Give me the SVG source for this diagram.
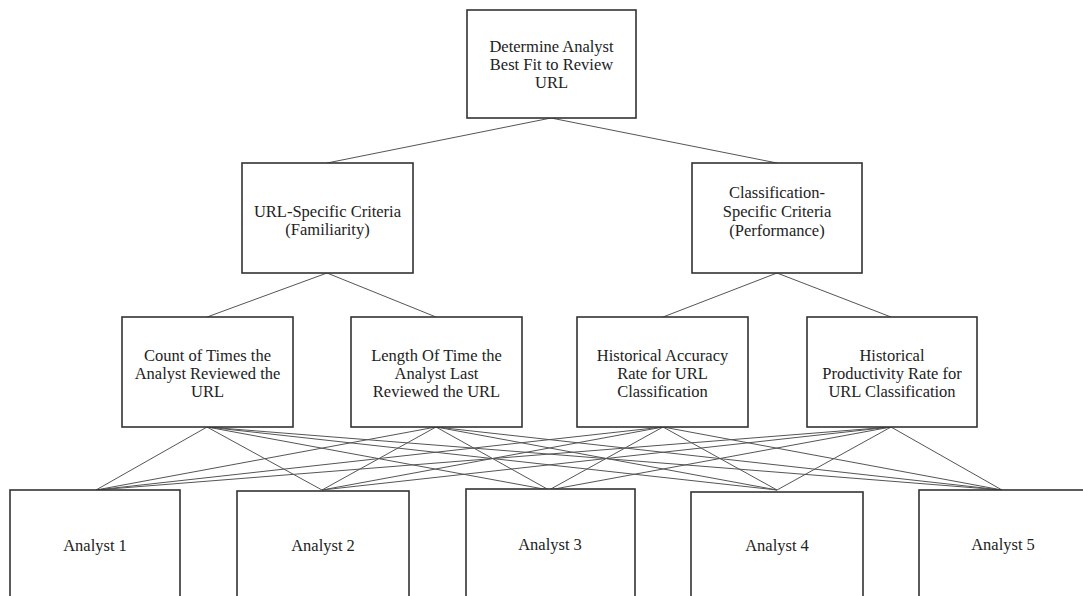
<svg xmlns="http://www.w3.org/2000/svg" width="1083" height="596" viewBox="0 0 1083 596">
<style>
.box{fill:#fff;stroke:#333;stroke-width:1.6}
.t{font-family:"Liberation Serif","Times New Roman",serif;font-size:16.5px;fill:#222;text-anchor:middle}
.c line{stroke:#555;stroke-width:1}
</style>
<rect width="1083" height="596" fill="#fff"/>
<g class="c" id="connectors">
<line x1="551" y1="118" x2="327" y2="163"/>
<line x1="551" y1="118" x2="777" y2="163"/>
<line x1="327" y1="273" x2="207" y2="317"/>
<line x1="327" y1="273" x2="436" y2="317"/>
<line x1="777" y1="273" x2="663" y2="317"/>
<line x1="777" y1="273" x2="891" y2="317"/>
<line x1="207" y1="427" x2="96" y2="490"/>
<line x1="207" y1="427" x2="322" y2="490"/>
<line x1="207" y1="427" x2="549" y2="490"/>
<line x1="207" y1="427" x2="777" y2="490"/>
<line x1="207" y1="427" x2="1002" y2="490"/>
<line x1="436" y1="427" x2="96" y2="490"/>
<line x1="436" y1="427" x2="322" y2="490"/>
<line x1="436" y1="427" x2="549" y2="490"/>
<line x1="436" y1="427" x2="777" y2="490"/>
<line x1="436" y1="427" x2="1002" y2="490"/>
<line x1="663" y1="427" x2="96" y2="490"/>
<line x1="663" y1="427" x2="322" y2="490"/>
<line x1="663" y1="427" x2="549" y2="490"/>
<line x1="663" y1="427" x2="777" y2="490"/>
<line x1="663" y1="427" x2="1002" y2="490"/>
<line x1="891" y1="427" x2="96" y2="490"/>
<line x1="891" y1="427" x2="322" y2="490"/>
<line x1="891" y1="427" x2="549" y2="490"/>
<line x1="891" y1="427" x2="777" y2="490"/>
<line x1="891" y1="427" x2="1002" y2="490"/>
</g>
<g id="goal">
<rect class="box" x="467" y="10" width="169" height="108"/>
<text class="t"><tspan x="551.5" y="52">Determine Analyst</tspan><tspan x="551.5" y="70">Best Fit to Review</tspan><tspan x="551.5" y="88">URL</tspan></text>
</g>
<g id="url-criteria">
<rect class="box" x="242" y="163" width="171" height="110"/>
<text class="t"><tspan x="327.5" y="217">URL-Specific Criteria</tspan><tspan x="327.5" y="235">(Familiarity)</tspan></text>
</g>
<g id="class-criteria">
<rect class="box" x="692" y="163" width="170" height="110"/>
<text class="t"><tspan x="777" y="198">Classification-</tspan><tspan x="777" y="217">Specific Criteria</tspan><tspan x="777" y="236">(Performance)</tspan></text>
</g>
<g id="count">
<rect class="box" x="122" y="317" width="171" height="110"/>
<text class="t"><tspan x="207.5" y="361">Count of Times the</tspan><tspan x="207.5" y="379">Analyst Reviewed the</tspan><tspan x="207.5" y="397">URL</tspan></text>
</g>
<g id="length">
<rect class="box" x="351" y="317" width="171" height="110"/>
<text class="t"><tspan x="436.5" y="361">Length Of Time the</tspan><tspan x="436.5" y="379">Analyst Last</tspan><tspan x="436.5" y="397">Reviewed the URL</tspan></text>
</g>
<g id="accuracy">
<rect class="box" x="577" y="317" width="171" height="110"/>
<text class="t"><tspan x="662.5" y="361">Historical Accuracy</tspan><tspan x="662.5" y="379">Rate for URL</tspan><tspan x="662.5" y="397">Classification</tspan></text>
</g>
<g id="productivity">
<rect class="box" x="807" y="317" width="170" height="110"/>
<text class="t"><tspan x="892" y="361">Historical</tspan><tspan x="892" y="379">Productivity Rate for</tspan><tspan x="892" y="397">URL Classification</tspan></text>
</g>
<g id="analyst1">
<rect class="box" x="10" y="490" width="170" height="120"/>
<text class="t" x="95" y="551">Analyst 1</text>
</g>
<g id="analyst2">
<rect class="box" x="237" y="491" width="172" height="120"/>
<text class="t" x="323" y="551">Analyst 2</text>
</g>
<g id="analyst3">
<rect class="box" x="466" y="489" width="169" height="120"/>
<text class="t" x="550" y="550">Analyst 3</text>
</g>
<g id="analyst4">
<rect class="box" x="691" y="492" width="172" height="120"/>
<text class="t" x="777" y="551">Analyst 4</text>
</g>
<g id="analyst5">
<rect class="box" x="919" y="490" width="170" height="120"/>
<text class="t" x="1003" y="550">Analyst 5</text>
</g>
</svg>
